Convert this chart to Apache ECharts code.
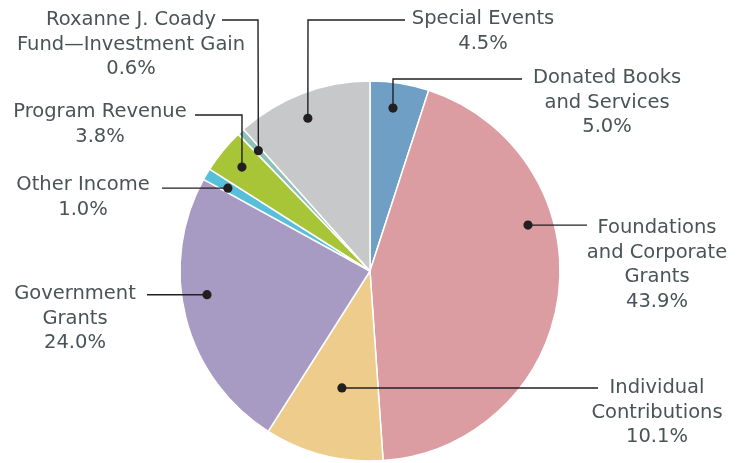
<!DOCTYPE html>
<html>
<head>
<meta charset="utf-8">
<script src="https://cdn.jsdelivr.net/npm/echarts@6/dist/echarts.min.js"></script>
<style>
  html, body { margin: 0; padding: 0; background: #fff; }
  #chart { width: 739px; height: 463px; }
</style>
</head>
<body>
<div id="chart"></div>
<script>
// slices, clockwise from 12 o'clock
const categories = [
  'Donated Books\nand Services',
  'Foundations\nand Corporate\nGrants',
  'Individual\nContributions',
  'Government\nGrants',
  'Other Income',
  'Program Revenue',
  'Roxanne J. Coady\nFund\u2014Investment Gain',
  'Special Events'
];
// slice sizes as drawn (percent of the circle)
const shares = [5.0, 43.9, 10.1, 24.0, 1.0, 3.8, 0.6, 11.6];
// printed percentages
const shareLabels = ['5.0%', '43.9%', '10.1%', '24.0%', '1.0%', '3.8%', '0.6%', '4.5%'];
const colors = ['#6f9fc4', '#db9da1', '#eecd8c', '#a79ac3', '#57bfd9', '#a8c537', '#8dc1b7', '#c7c8ca'];

// leader-line dots: [radius fraction, position on the 0-100 circle]
const dotRadius = [0.866, 0.866, 0.633, 0.867, 0.866, 0.868, 0.864, 0.868];
const dotPos = [2.23, 20.5, 53.75, 72.7, 83.4, 85.85, 88.1, 93.85];

// label placement: centre x, top y, line end, elbow point (null = straight line)
const labelX = [607, 657, 657, 75, 83, 100, 131, 483];
const labelY = [66, 216, 376, 282, 173, 100, 8, 7];
const lineEnd = [[522, 79], [587, 225], [598, 388], [147, 295], [162, 188], [195, 115], [222, 20], [405, 20]];
const elbow = [[393, 79], null, null, null, null, [242, 115], [258, 20], [308, 20]];

const CX = 370, CY = 271, R = 190;
const INK = '#231f20';

const chart = echarts.init(document.getElementById('chart'));

chart.setOption({
  animation: false,
  backgroundColor: '#fff',
  polar: { center: [CX, CY], radius: R },
  angleAxis: { type: 'value', min: 0, max: 100, startAngle: 90, clockwise: true, show: false },
  radiusAxis: { type: 'value', min: 0, max: 1, show: false },
  series: [
    {
      type: 'pie',
      center: [CX, CY],
      radius: R,
      startAngle: 90,
      clockwise: true,
      avoidLabelOverlap: false,
      itemStyle: { borderColor: '#fff', borderWidth: 1.5 },
      label: {
        show: true,
        position: 'outside',
        fontFamily: 'DejaVu Sans',
        fontSize: 19.5,
        lineHeight: 24.5,
        color: '#4a5356',
        align: 'center',
        formatter: p => categories[p.dataIndex] + '\n' + shareLabels[p.dataIndex]
      },
      labelLine: { show: false },
      labelLayout: function (params) {
        const i = params.dataIndex;
        return { x: labelX[i], y: labelY[i], align: 'center', verticalAlign: 'top' };
      },
      emphasis: { disabled: true },
      data: shares.map((v, i) => ({ value: v, name: categories[i], itemStyle: { color: colors[i] } }))
    },
    {
      // leader lines with their dots
      type: 'custom',
      coordinateSystem: 'polar',
      silent: true,
      z: 5,
      data: dotRadius.map((r, i) => [r, dotPos[i]]),
      renderItem: function (params, api) {
        const i = params.dataIndex;
        const p = api.coord([api.value(0), api.value(1)]);
        const end = lineEnd[i];
        const pts = elbow[i] ? [p, elbow[i], end] : [p, [end[0], p[1]]];
        return {
          type: 'group',
          children: [
            { type: 'polyline', shape: { points: pts }, style: { stroke: INK, lineWidth: 1.4, fill: null } },
            { type: 'circle', shape: { cx: p[0], cy: p[1], r: 4.6 }, style: { fill: INK } }
          ]
        };
      }
    }
  ]
});
</script>
</body>
</html>
